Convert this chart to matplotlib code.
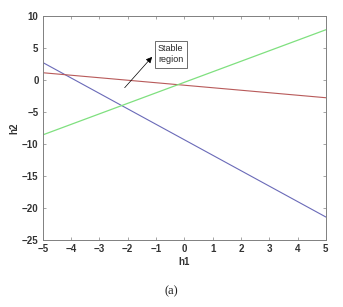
import matplotlib
matplotlib.use("Agg")
import matplotlib.pyplot as plt

# line end points
h1 = [-5, 5]
h2_blue = [2.7, -21.4]
h2_red = [1.1, -2.8]
h2_green = [-8.6, 7.8]

xticks = [-5, -4, -3, -2, -1, 0, 1, 2, 3, 4, 5]
yticks = [-25, -20, -15, -10, -5, 0, 5, 10]

plt.rcParams['font.family'] = ['Liberation Sans', 'DejaVu Sans']

fig = plt.figure(figsize=(3.43, 3.07), dpi=100)
ax = fig.add_axes([0.1245, 0.218, 0.8255, 0.731])

ax.plot(h1, h2_blue, color='#6a6ab8', lw=0.8)
ax.plot(h1, h2_red, color='#b85a5a', lw=0.8)
ax.plot(h1, h2_green, color='#7fe07f', lw=0.9)

ax.set_xlim(-5, 5)
ax.set_ylim(-25, 10)
ax.set_xticks(xticks)
ax.set_yticks(yticks)
ax.tick_params(direction='in', length=2, width=0.5, labelsize=7,
               color='#808080', labelcolor='#333333', top=True, right=True, pad=3)
for lab in ax.get_xticklabels() + ax.get_yticklabels():
    lab.set_fontweight('bold')
for s in ax.spines.values():
    s.set_linewidth(0.7)
    s.set_color('#808080')

ax.set_xlabel('h1', fontsize=7, fontweight='bold', color='#333333', labelpad=2)
ax.set_ylabel('h2', fontsize=7, fontweight='bold', color='#333333', labelpad=2)

ax.annotate('', xy=(-1.07, 3.9), xytext=(-2.17, -1.56),
            arrowprops=dict(arrowstyle='-|>', color='black', lw=0.5,
                            mutation_scale=9))
ax.text(-0.93, 3.95, 'Stable\nregion', fontsize=6.5, color='#262626',
        va='center', ha='left', linespacing=1.3,
        bbox=dict(boxstyle='square,pad=0.35', fc='white', ec='#555555', lw=0.6))

fig.text(0.499, 0.052, '(a)', fontsize=9, family=['Liberation Serif', 'DejaVu Serif'],
         ha='center', va='center', color='#222222')

fig.savefig('out.png', dpi=100)
